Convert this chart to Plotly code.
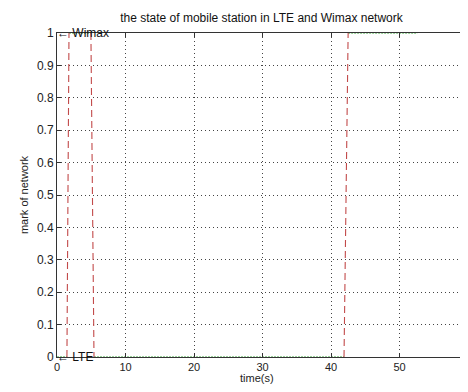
import plotly.graph_objects as go

# Data
x_ticks = [0, 10, 20, 30, 40, 50, 60]
y_ticks = [0, 0.1, 0.2, 0.3, 0.4, 0.5, 0.6, 0.7, 0.8, 0.9, 1]
y_tick_labels = ["0", "0.1", "0.2", "0.3", "0.4", "0.5", "0.6", "0.7", "0.8", "0.9", "1"]

# state of the mobile station (0 = LTE, 1 = Wimax), green dotted
state_t = [0, 1.5, None, 1.75, 4.95, None, 5.4, 41.9, None, 42.5, 52.6]
state_v = [0, 0, None, 1, 1, None, 0, 0, None, 1, 1]

# handover transitions, red dashed
hand_t = [1.45, 1.75, None, 4.95, 5.4, None, 41.9, 42.2, 42.5]
hand_v = [0, 1, None, 1, 0, None, 0, 0.5, 1]

fig = go.Figure()
fig.add_trace(go.Scatter(x=state_t, y=state_v, mode="lines",
                         line=dict(color="#3aa83a", width=1.2, dash="2px,1px"),
                         showlegend=False, hoverinfo="skip"))
fig.add_trace(go.Scatter(x=hand_t, y=hand_v, mode="lines",
                         line=dict(color="#c24a4a", width=1.1, dash="7px,4px"),
                         showlegend=False, hoverinfo="skip"))

fam = "Liberation Sans, Arial, sans-serif"
font = dict(family=fam, size=12, color="#222222")

fig.add_annotation(x=0, y=1, xref="x", yref="y", text="\u2190 Wimax", showarrow=False,
                   xanchor="left", yanchor="middle", xshift=-2,
                   font=dict(family=fam, size=12, color="#111111"))
fig.add_annotation(x=0, y=0, xref="x", yref="y", text="\u2190 LTE", showarrow=False,
                   xanchor="left", yanchor="middle", xshift=-2,
                   font=dict(family=fam, size=12, color="#111111"))

# page body has an 8px margin, so the figure sits at (8, 8); keep it inside the window
W, H = 452, 376
L, T, B, R = 49, 25, 27, 0
# the reference axis box runs to x=60 just at the window edge; keep the same scale
X_MAX = 60 * (W - L - R) / (468 - 57)

# x-axis title placed at the very bottom of the figure
fig.add_annotation(x=29.2, y=0, xref="x", yref="paper", text="time(s)", showarrow=False,
                   xanchor="center", yanchor="bottom", yshift=-B - 1, borderpad=0,
                   font=dict(family=fam, size=11, color="#222222"))

fig.update_layout(
    width=W, height=H,
    margin=dict(l=L, r=R, t=T, b=B, autoexpand=False),
    paper_bgcolor="white", plot_bgcolor="white",
    font=font,
    title=dict(text="the state of mobile station in LTE and Wimax network",
               x=253.5 / W, xanchor="center", y=1 - 10 / H, yanchor="middle",
               font=dict(family=fam, size=12, color="#111111")),
    xaxis=dict(range=[0, X_MAX], tickvals=x_ticks, ticktext=[str(v) for v in x_ticks],
               ticks="inside", ticklen=4, tickcolor="#333333",
               tickfont=dict(size=11),
               showline=True, linecolor="#333333", linewidth=1, mirror="ticks",
               showgrid=True, gridcolor="#444444", griddash="1px,3px", gridwidth=1,
               zeroline=False),
    yaxis=dict(range=[0, 1], tickvals=y_ticks, ticktext=y_tick_labels,
               ticks="inside", ticklen=4, tickcolor="#333333",
               showline=True, linecolor="#333333", linewidth=1, mirror=False,
               showgrid=True, gridcolor="#444444", griddash="1px,3px", gridwidth=1,
               zeroline=False,
               title=dict(text="mark of network", standoff=6, font=dict(size=11))),
)

fig.write_html("out.html")
